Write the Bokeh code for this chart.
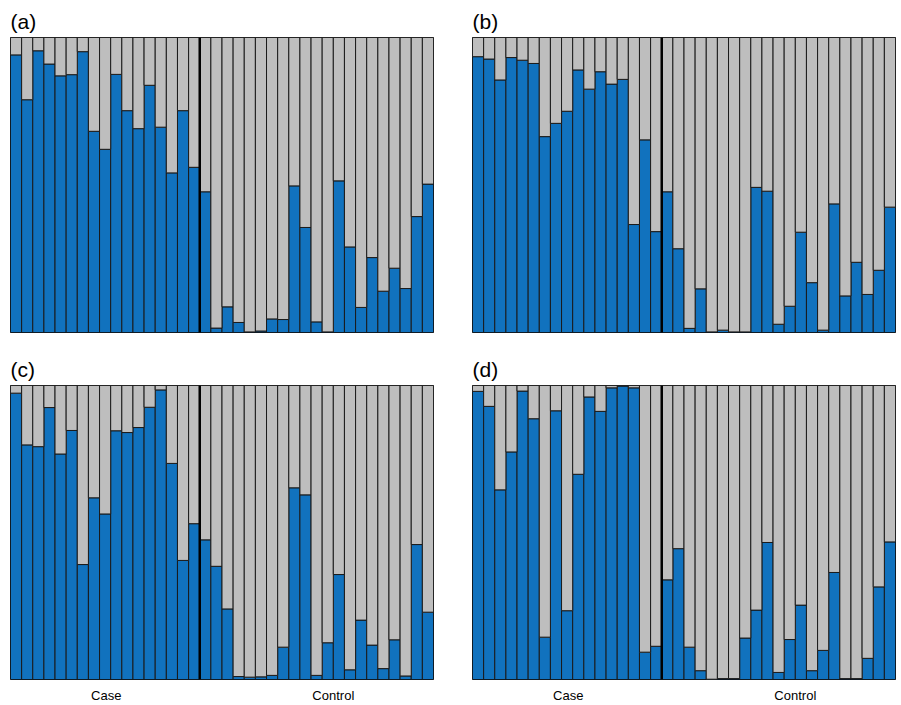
import numpy as np
from bokeh.plotting import figure
from bokeh.layouts import row, column
from bokeh.models import Range1d, Span, FixedTicker, ColumnDataSource
from bokeh.embed import file_html
from bokeh.resources import INLINE

# Proportion of the blue component for each sample (rest is gray)
case_a = [0.941, 0.789, 0.955, 0.910, 0.870, 0.874, 0.952, 0.682, 0.621, 0.875,
          0.752, 0.691, 0.838, 0.696, 0.541, 0.752, 0.560]
control_a = [0.477, 0.015, 0.087, 0.034, 0.002, 0.005, 0.046, 0.044, 0.497, 0.356,
             0.036, 0.002, 0.514, 0.290, 0.085, 0.254, 0.140, 0.218, 0.149, 0.393, 0.503]

case_b = [0.935, 0.927, 0.856, 0.932, 0.923, 0.912, 0.664, 0.709, 0.750, 0.890,
          0.825, 0.884, 0.842, 0.858, 0.366, 0.653, 0.342]
control_b = [0.477, 0.284, 0.014, 0.148, 0.002, 0.008, 0.002, 0.002, 0.492, 0.479,
             0.028, 0.089, 0.340, 0.169, 0.008, 0.436, 0.124, 0.238, 0.129, 0.211, 0.425]

case_c = [0.974, 0.798, 0.792, 0.925, 0.767, 0.847, 0.391, 0.618, 0.563, 0.846,
          0.840, 0.857, 0.926, 0.985, 0.735, 0.405, 0.530]
control_c = [0.475, 0.385, 0.240, 0.010, 0.008, 0.009, 0.014, 0.110, 0.652, 0.628,
             0.014, 0.125, 0.357, 0.033, 0.202, 0.117, 0.037, 0.135, 0.012, 0.459, 0.229]

case_d = [0.980, 0.929, 0.645, 0.774, 0.981, 0.887, 0.144, 0.914, 0.234, 0.698,
          0.961, 0.912, 0.992, 0.998, 0.992, 0.093, 0.113]
control_d = [0.339, 0.445, 0.110, 0.030, 0.001, 0.003, 0.003, 0.141, 0.236, 0.466,
             0.024, 0.136, 0.253, 0.030, 0.099, 0.364, 0.003, 0.003, 0.072, 0.315, 0.468]

panel_labels = ["(a)", "(b)", "(c)", "(d)"]
group_labels = ["Case", "Control"]
group_label_pos = [8.6, 29.0]

BLUE = "#1172BE"
GRAY = "#BEBEBE"
FONT = "Liberation Sans"


def make_panel(label, case, control, width, height, mb_left, mb_right, mb_top, mb_bottom, show_axis):
    blue = list(case) + list(control)
    n = len(blue)
    x = np.arange(n) + 0.5
    src = ColumnDataSource(dict(x=x, blue=blue, one=[1.0] * n, zero=[0.0] * n))
    p = figure(width=width, height=height, output_backend="svg", toolbar_location=None,
               x_range=Range1d(0, n), y_range=Range1d(0, 1),
               min_border_left=mb_left, min_border_right=mb_right,
               min_border_top=mb_top, min_border_bottom=mb_bottom,
               y_axis_location=None,
               x_axis_location="below" if show_axis else None)
    p.vbar(x="x", width=1, bottom="zero", top="blue", source=src,
           fill_color=BLUE, line_color="#1a1a1a", line_width=1)
    p.vbar(x="x", width=1, bottom="blue", top="one", source=src,
           fill_color=GRAY, line_color="#1a1a1a", line_width=1)
    p.add_layout(Span(location=len(case), dimension="height", line_color="black", line_width=2.5))
    p.xgrid.visible = False
    p.ygrid.visible = False
    p.outline_line_color = "black"
    p.outline_line_width = 1
    p.background_fill_color = "white"
    p.border_fill_color = "white"
    p.title.text = label
    p.title.text_font = FONT
    p.title.text_font_size = "21px"
    p.title.text_font_style = "normal"
    p.title.text_color = "black"
    p.title.align = "left"
    p.title.offset = 0
    p.title.standoff = 9
    if show_axis:
        ax = p.xaxis[0]
        ax.ticker = FixedTicker(ticks=group_label_pos)
        ax.major_label_overrides = {group_label_pos[0]: group_labels[0],
                                    group_label_pos[1]: group_labels[1]}
        ax.axis_line_color = None
        ax.major_tick_line_color = None
        ax.minor_tick_line_color = None
        ax.major_tick_out = 0
        ax.major_tick_in = 0
        ax.major_label_standoff = 8
        ax.major_label_text_font = FONT
        ax.major_label_text_font_size = "13px"
        ax.major_label_text_color = "black"
    return p


pa = make_panel(panel_labels[0], case_a, control_a, 470, 351, 10, 37, 37, 19, False)
pb = make_panel(panel_labels[1], case_b, control_b, 427, 351, 2, 2, 37, 19, False)
pc = make_panel(panel_labels[2], case_c, control_c, 470, 354, 10, 37, 34, 24, True)
pd = make_panel(panel_labels[3], case_d, control_d, 427, 354, 2, 2, 34, 24, True)

layout = column(row(pa, pb), row(pc, pd))

open("out.html", "w").write(file_html(layout, INLINE))
